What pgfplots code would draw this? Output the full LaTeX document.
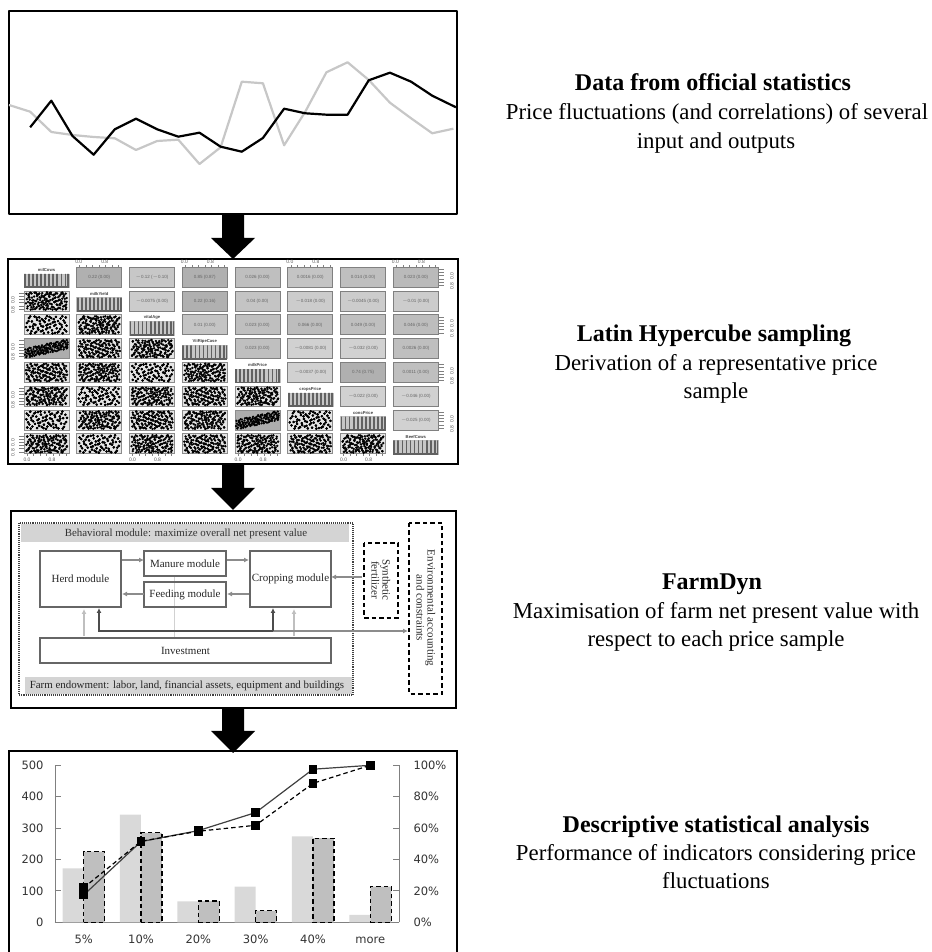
\documentclass[border=0pt]{standalone}
\usepackage{pgfplots}
\pgfplotsset{compat=1.18}
\usepackage{pgfplotstable}
\usepackage{fontspec}
\setmainfont{Liberation Serif}
\newfontfamily\labelfont{DejaVu Sans}
\newfontfamily\tinyfont{Liberation Sans}
\usetikzlibrary{arrows.meta}

\newcommand\fs[1]{\fontsize{#1}{#1}\selectfont}

% panel 1, two price series
\pgfplotstableread{
i gray
0 109
1 102.3
2 82
3 79
4 77
5 75.7
6 64
7 73
8 74.3
9 50
10 66.7
11 132.3
12 130.7
13 68.7
14 102.3
15 141.7
16 151.7
17 134
18 111.3
19 95.7
20 80.7
21 85.3
}\pricegray
\pgfplotstableread{
i black
1 86.7
2 113.3
3 78
4 59.3
5 84.7
6 95.3
7 84.7
8 77.3
9 81.3
10 67.3
11 62.3
12 76
13 105.3
14 100.7
15 99.3
16 99.3
17 133.7
18 141.3
19 132.3
20 118.3
21.12 106.7
}\priceblack

% panel 2, scatter clouds in unit cell coordinates
\pgfplotstableread[row sep=\\]{
x y\\ .03 .12\\ .07 .55\\ .05 .88\\ .10 .30\\ .12 .72\\ .15 .10\\ .17 .47\\ .18 .93\\ .21 .26\\ .23 .64\\
.25 .05\\ .27 .82\\ .29 .40\\ .31 .15\\ .32 .58\\ .34 .91\\ .36 .33\\ .38 .70\\ .40 .08\\ .41 .49\\
.43 .85\\ .45 .22\\ .47 .61\\ .48 .95\\ .50 .38\\ .52 .12\\ .53 .76\\ .55 .52\\ .57 .28\\ .59 .90\\
.60 .05\\ .62 .66\\ .64 .42\\ .66 .17\\ .67 .83\\ .69 .56\\ .71 .31\\ .73 .96\\ .75 .10\\ .76 .71\\
.78 .46\\ .80 .24\\ .82 .88\\ .84 .60\\ .85 .07\\ .87 .37\\ .89 .78\\ .91 .19\\ .93 .52\\ .95 .92\\
.97 .34\\ .96 .68\\ .08 .20\\ .14 .62\\ .20 .80\\ .26 .50\\ .33 .75\\ .39 .28\\ .46 .44\\ .51 .86\\
.56 .18\\ .63 .80\\ .70 .14\\ .74 .50\\ .81 .66\\ .88 .11\\ .94 .74\\ .11 .42\\ .28 .17\\ .44 .68\\
}\clouda
\pgfplotstableread[row sep=\\]{
x y\\ .04 .40\\ .06 .78\\ .09 .14\\ .11 .60\\ .13 .95\\ .16 .32\\ .19 .70\\ .22 .06\\ .24 .50\\ .26 .87\\
.28 .24\\ .30 .66\\ .33 .10\\ .35 .44\\ .37 .84\\ .39 .20\\ .42 .59\\ .44 .94\\ .46 .35\\ .49 .73\\
.51 .04\\ .53 .48\\ .54 .90\\ .56 .26\\ .58 .63\\ .61 .14\\ .63 .79\\ .65 .37\\ .68 .55\\ .70 .92\\
.72 .08\\ .74 .68\\ .77 .30\\ .79 .85\\ .81 .43\\ .83 .16\\ .86 .62\\ .88 .94\\ .90 .27\\ .92 .75\\
.95 .11\\ .97 .54\\ .02 .62\\ .08 .30\\ .15 .83\\ .20 .46\\ .27 .12\\ .31 .76\\ .38 .56\\ .43 .28\\
.48 .16\\ .52 .66\\ .59 .45\\ .64 .95\\ .67 .20\\ .71 .50\\ .76 .90\\ .82 .72\\ .87 .05\\ .93 .38\\
.12 .05\\ .18 .58\\ .34 .30\\ .41 .80\\ .57 .08\\ .69 .34\\ .85 .50\\ .96 .84\\ .23 .92\\ .50 .52\\
}\cloudb

% diagonal histograms, bars as a comb
\pgfplotstableread[row sep=\\]{
x y\\ .02 0\\ .02 1\\ .02 0\\ .11 0\\ .11 1\\ .11 0\\ .20 0\\ .20 1\\ .20 0\\ .29 0\\ .29 1\\ .29 0\\
.38 0\\ .38 1\\ .38 0\\ .47 0\\ .47 1\\ .47 0\\ .56 0\\ .56 1\\ .56 0\\ .65 0\\ .65 1\\ .65 0\\
.74 0\\ .74 1\\ .74 0\\ .83 0\\ .83 1\\ .83 0\\ .92 0\\ .92 1\\ .92 0\\ .98 0\\ .98 1\\ .98 0\\
}\histcomb

% panel 4, bars and cumulative shares
\pgfplotstableread{
idx low high cumlow cumhigh
0 172 225 17.4 22
1 343 285 51.4 51.6
2 67 68 58.4 58
3 114 37 69.9 61.8
4 274 268 97.5 88.5
5 24 114 100 100
}\histstats

\newcommand\cloudpart[5]{\addplot[only marks,mark=*,mark size=1pt,black] table[
  x expr={24+52.77*#2+45*(0.5+0.95*#4*(\thisrow{x}-0.5))},
  y expr={267.3+23.8*#3+20*(0.5+0.95*#5*(\thisrow{y}-0.5))}]{#1};}
% every cell shows both tables, flipped differently
\newcommand\cloud[5]{\cloudpart{#1}{#2}{#3}{#4}{#5}\cloudpart{\cloudb}{#2}{#3}{#5}{#4}}
\newcommand\cloudrpart[3]{\addplot[only marks,mark=*,mark size=0.9pt,black] table[
  x expr={24+52.77*#2+45*\thisrow{x}},
  y expr={267.3+23.8*#3+20*(0.5-0.5*(\thisrow{x}-0.5)+0.52*(\thisrow{y}-0.5))}]{#1};}
\newcommand\cloudr[2]{\cloudrpart{\clouda}{#1}{#2}\cloudrpart{\cloudb}{#1}{#2}}
\newcommand\hist[2]{\addplot[black!62,line width=1.7pt] table[
  x expr={24+52.77*#1+45*\thisrow{x}},
  y expr={267.3+23.8*#2+20-13.4*\thisrow{y}}]{\histcomb};}

\newcommand\blockarrow[3]{\fill[black] (222,#1) -- (244,#1) -- (244,#2) -- (255,#2) -- (233,#3) -- (211,#2) -- (222,#2) -- cycle;}

\tikzset{bigdash/.style={dash pattern=on 4.5pt off 3pt}}

\begin{document}
\begin{tikzpicture}
\path[use as bounding box] (0,0) rectangle (931pt,952pt);

% panel 1
\begin{axis}[
  at={(9pt,738pt)}, anchor=south west,
  scale only axis, width=448pt, height=203pt,
  xmin=0, xmax=21.17, ymin=0, ymax=203,
  xtick=\empty, ytick=\empty,
  axis line style={black,line width=1.5pt},
  line join=round,
]
\addplot[color=black!22,line width=2.2pt] table[x=i,y=gray]{\pricegray};
\addplot[color=black,line width=2.2pt] table[x=i,y=black]{\priceblack};
\end{axis}

% fixed parts of the panels, in reference pixels
\begin{scope}[x=1pt,y=-1pt,yshift=952pt]
% panel 2 cells
\draw[black,line width=2.6pt] (8,259) rectangle (458,464);
\foreach \c/\r in {0/1,0/2,1/2,1/3,2/3,0/4,1/4,2/4,3/4,0/5,1/5,2/5,3/5,4/5,0/6,1/6,2/6,3/6,5/6,0/7,1/7,2/7,3/7,4/7,5/7,6/7}
  \draw[black!45,fill=black!10,line width=0.8pt] ({24+52.77*\c},{267.3+23.8*\r}) rectangle ++(45,20);
\foreach \c/\r in {0/3,4/6}
  \draw[black!45,fill=black!32,line width=0.8pt] ({24+52.77*\c},{267.3+23.8*\r}) rectangle ++(45,20);
\foreach \c/\r/\g/\t in {
  1/0/31/{0.22 (0.00)},2/0/22/{$-$0.12 ($-$0.10)},3/0/31/{0.85 (0.87)},4/0/25/{0.026 (0.00)},5/0/23/{0.0016 (0.00)},6/0/25/{0.014 (0.00)},7/0/27/{0.023 (0.00)},
  2/1/20/{$-$0.0075 (0.00)},3/1/31/{0.22 (0.16)},4/1/23/{0.04 (0.00)},5/1/20/{$-$0.018 (0.00)},6/1/20/{$-$0.0045 (0.00)},7/1/20/{$-$0.01 (0.00)},
  3/2/23/{0.01 (0.00)},4/2/25/{0.023 (0.00)},5/2/26/{0.066 (0.00)},6/2/25/{0.049 (0.00)},7/2/26/{0.046 (0.00)},
  4/3/25/{0.023 (0.00)},5/3/18/{$-$0.0081 (0.00)},6/3/18/{$-$0.032 (0.00)},7/3/25/{0.0026 (0.00)},
  5/4/18/{$-$0.0037 (0.00)},6/4/31/{0.74 (0.75)},7/4/25/{0.0011 (0.00)},
  6/5/18/{$-$0.022 (0.00)},7/5/18/{$-$0.046 (0.00)},
  7/6/18/{$-$0.025 (0.00)}}
  \draw[black!50,fill=black!\g,line width=1pt] ({24+52.77*\c},{267.3+23.8*\r}) rectangle ++(45,20)
    node[midway,text=black!60,font=\tinyfont\fs{4.5}] {\t};
\foreach \c/\t in {0/milCows,1/milkYield,2/vitalAge,3/ViiRipeCase,4/milkPrice,5/cropsPrice,6/concPrice,7/BeefCows}
  \draw[black!25,fill=black!22,line width=0.6pt] ({24+52.77*\c},{267.3+23.8*\c+6.6}) rectangle ++(45,13.4)
    node[midway,yshift=10.6pt,text=black!75,font=\tinyfont\bfseries\fs{4.2}] {\t};
% panel 2 outer scales
\foreach \c in {1,3,5,7} {
  \foreach \k in {0,...,6} \draw[black!50,line width=0.6pt] ({24+52.77*\c+3+6.5*\k},267.3) -- ++(0,-2.5);
  \node[text=black!65,font=\tinyfont\fs{5}] at ({24+52.77*\c+2},262) {0.0};
  \node[text=black!65,font=\tinyfont\fs{5}] at ({24+52.77*\c+28},262) {0.8};
}
\foreach \c in {0,2,4,6} {
  \foreach \k in {0,...,6} \draw[black!50,line width=0.6pt] ({24+52.77*\c+3+6.5*\k},454) -- ++(0,2.5);
  \node[text=black!65,font=\tinyfont\fs{5}] at ({24+52.77*\c+3},460) {0.0};
  \node[text=black!65,font=\tinyfont\fs{5}] at ({24+52.77*\c+28},460) {0.8};
}
\foreach \r in {0,2,4,6} {
  \foreach \k in {0,...,5} \draw[black!50,line width=0.6pt] (438.4,{267.3+23.8*\r+2+3.2*\k}) -- ++(6,0);
  \node[rotate=90,text=black!65,font=\tinyfont\fs{5}] at (452,{267.3+23.8*\r+8.7}) {0.0};
  \node[rotate=90,text=black!65,font=\tinyfont\fs{5}] at (452,{267.3+23.8*\r+18.7}) {0.8};
}
\foreach \r in {1,3,5,7} {
  \foreach \k in {0,...,5} \draw[black!50,line width=0.6pt] (24,{267.3+23.8*\r+2+3.2*\k}) -- ++(-5,0);
  \node[rotate=90,text=black!65,font=\tinyfont\fs{5}] at (13,{267.3+23.8*\r+8.7}) {0.0};
  \node[rotate=90,text=black!65,font=\tinyfont\fs{5}] at (13,{267.3+23.8*\r+18.7}) {0.8};
}

% panel 3 diagram
\draw[black,line width=2.6pt] (11,511) rectangle (456,708);
\fill[black!17] (21,524) rectangle (349,542);
\fill[black!17] (25,677) rectangle (352,694);
\draw[black!75,line width=1.1pt,densely dotted] (19,523) rectangle (353,695);
\node[font=\fs{10.9},text=black!80] at (186,534) {Behavioral module: maximize overall net present value};
\node[font=\fs{10.9},text=black!85] at (187,686) {Farm endowment: labor, land, financial assets, equipment and buildings};
\draw[black!18,line width=1pt] (174,576) -- (174,638);
\begin{scope}[black!60,line width=1.1pt,every node/.style={font=\fs{11},text=black!85}]
\draw (40,551) rectangle (121,607) node[midway] {Herd module};
\draw (144,551) rectangle (226,576) node[midway] {Manure module};
\draw (144,582) rectangle (226,607) node[midway] {Feeding module};
\draw (250,551) rectangle (331,607) node[midway] {Cropping module};
\draw (40,638) rectangle (331,663) node[midway] {Investment};
\end{scope}
\begin{scope}[black!45,line width=1.2pt,-{Latex[length=5pt,width=5pt]}]
\draw (122,560) -- (144,560);
\draw (227,560) -- (249,560);
\draw (249,594) -- (227,594);
\draw (144,594) -- (122,594);
\draw (362,577) -- (331,577);
\draw[black!25] (84,636) -- (84,609);
\draw[black!25] (294,636) -- (294,609);
\draw (273,631) -- (408,631);
\end{scope}
\draw[black!70,line width=1.1pt,-{Latex[length=5pt,width=5pt]}] (273,631) -- (99,631) -- (99,608);
\draw[black!70,line width=1.1pt,-{Latex[length=5pt,width=5pt]}] (273,631) -- (273,608);
\draw[black,line width=1.4pt,bigdash] (364,543) rectangle (398,618);
\draw[black,line width=1.4pt,bigdash] (409,523) rectangle (442,694);
\node[rotate=-90,align=center,font=\fs{11},text=black!85] at (381,580) {Synthetic\\fertilizer};
\node[rotate=-90,align=center,font=\fs{11},text=black!85] at (426,608) {Environmental accounting\\and constraints};

% panel 4 frame
\draw[black,line width=2pt] (9,953) -- (9,751) -- (457,751) -- (457,953);

% arrows between panels
\blockarrow{214}{238}{259}
\blockarrow{464}{488}{510}
\blockarrow{708}{731}{753}

% text on the right
\begin{scope}[every node/.style={anchor=base,font=\fs{22.8}}]
\node[font=\bfseries\fs{24}] at (713,91) {Data from official statistics};
\node at (717,120) {Price fluctuations (and correlations) of several};
\node at (716,149) {input and outputs};
\node[font=\bfseries\fs{24}] at (714,342) {Latin Hypercube sampling};
\node at (716,371) {Derivation of a representative price};
\node at (716,399) {sample};
\node[font=\bfseries\fs{24}] at (712,590) {FarmDyn};
\node at (716,619) {Maximisation of farm net present value with};
\node at (716,647) {respect to each price sample};
\node[font=\bfseries\fs{24}] at (716,833) {Descriptive statistical analysis};
\node at (716,861) {Performance of indicators considering price};
\node at (716,889) {fluctuations};
\end{scope}
\end{scope}

% panel 2 marks
\begin{axis}[
  at={(8pt,488pt)}, anchor=south west,
  scale only axis, width=450pt, height=205pt,
  xmin=8, xmax=458, ymin=259, ymax=464, y dir=reverse,
  hide axis,
]
\hist{0}{0}\hist{1}{1}\hist{2}{2}\hist{3}{3}\hist{4}{4}\hist{5}{5}\hist{6}{6}\hist{7}{7}
\cloud{\clouda}{0}{1}{1}{1}
\cloud{\cloudb}{0}{2}{1}{1}
\cloud{\clouda}{1}{2}{-1}{1}
\cloudr{0}{3}
\cloud{\cloudb}{1}{3}{-1}{1}
\cloud{\clouda}{2}{3}{1}{-1}
\cloud{\cloudb}{0}{4}{1}{-1}
\cloud{\clouda}{1}{4}{-1}{-1}
\cloud{\cloudb}{2}{4}{-1}{-1}
\cloud{\clouda}{3}{4}{1}{1}
\cloud{\clouda}{0}{5}{-1}{1}
\cloud{\cloudb}{1}{5}{1}{1}
\cloud{\clouda}{2}{5}{-1}{-1}
\cloud{\cloudb}{3}{5}{-1}{1}
\cloud{\clouda}{4}{5}{1}{-1}
\cloud{\cloudb}{0}{6}{-1}{-1}
\cloud{\clouda}{1}{6}{1}{-1}
\cloud{\cloudb}{2}{6}{1}{-1}
\cloud{\clouda}{3}{6}{-1}{1}
\cloudr{4}{6}
\cloud{\cloudb}{5}{6}{1}{1}
\cloud{\clouda}{0}{7}{1}{-1}
\cloud{\cloudb}{1}{7}{-1}{-1}
\cloud{\clouda}{2}{7}{1}{1}
\cloud{\cloudb}{3}{7}{1}{-1}
\cloud{\clouda}{4}{7}{-1}{-1}
\cloud{\cloudb}{5}{7}{-1}{1}
\cloud{\clouda}{6}{7}{-1}{1}
\end{axis}

% panel 4 bars
\begin{axis}[
  at={(55pt,29.7pt)}, anchor=south west,
  scale only axis, width=344pt, height=157pt,
  xmin=-0.5, xmax=5.5, ymin=0, ymax=500,
  axis x line*=bottom, axis y line*=left,
  axis line style={black!50,line width=0.8pt,-},
  xtick=data,
  xticklabels={5\%,10\%,20\%,30\%,40\%,more},
  ytick={0,100,200,300,400,500},
  tick align=inside, major tick length=5.5pt,
  ytick style={black!50,line width=0.8pt},
  xtick style={draw=none},
  /pgf/number format/assume math mode=true,
  tick label style={font=\labelfont\fs{11.5},text=black!80},
  xticklabel style={yshift=-3pt,text height=9pt,text depth=0pt},
  yticklabel style={xshift=-8pt},
  ybar, bar width=21pt,
]
\addplot[bar shift=-10.5pt,draw=none,fill=black!15] table[x=idx,y=low]{\histstats};
\addplot[bar shift=10.5pt,draw=black,bigdash,line width=1.2pt,fill=black!25] table[x=idx,y=high]{\histstats};
\end{axis}

% panel 4 cumulative shares
\begin{axis}[
  at={(55pt,29.7pt)}, anchor=south west,
  scale only axis, width=344pt, height=157pt,
  xmin=-0.5, xmax=5.5, ymin=0, ymax=100,
  axis x line=none, axis y line*=right,
  axis line style={black!50,line width=0.8pt,-},
  ytick={0,20,40,60,80,100},
  yticklabel={\pgfmathprintnumber{\tick}\%},
  tick align=inside, major tick length=5.5pt,
  ytick style={black!50,line width=0.8pt},
  /pgf/number format/assume math mode=true,
  tick label style={font=\labelfont\fs{11.5},text=black!80},
  yticklabel style={xshift=11pt},
  clip=false,
]
\addplot[color=black!75,line width=1.2pt,mark=square*,mark size=3.7pt,mark options={black,solid}] table[x=idx,y=cumlow]{\histstats};
\addplot[color=black,line width=1.2pt,bigdash,mark=square*,mark size=3.7pt,mark options={black,solid}] table[x=idx,y=cumhigh]{\histstats};
\end{axis}
\end{tikzpicture}
\end{document}
